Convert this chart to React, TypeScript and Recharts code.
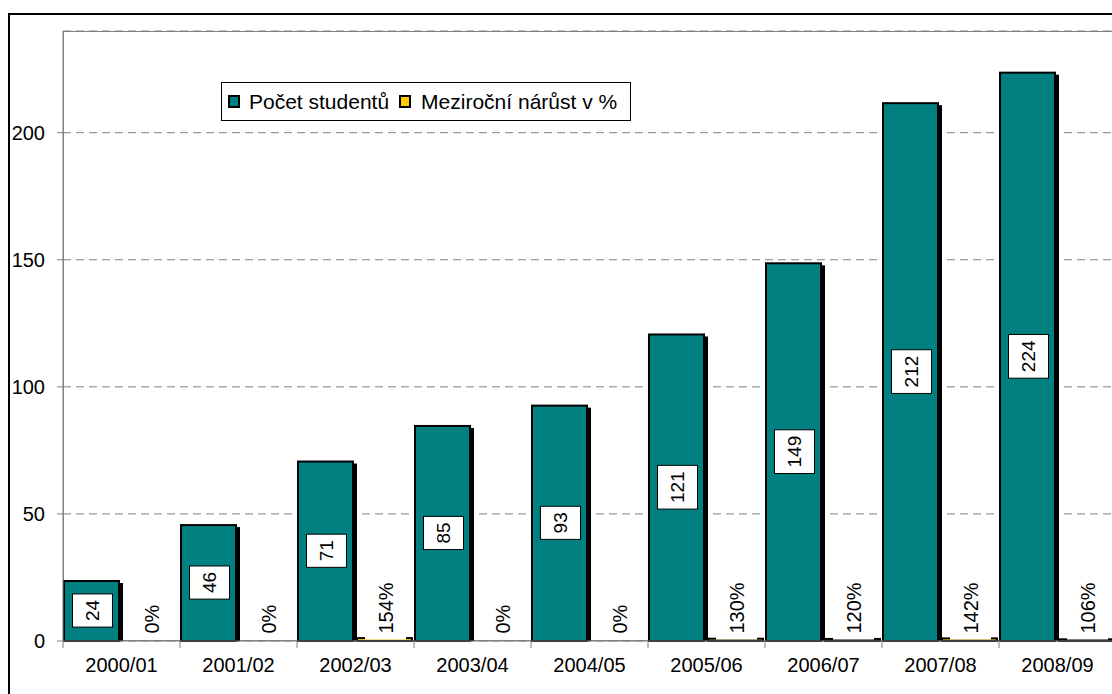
import { BarChart, Bar, XAxis, YAxis, CartesianGrid, LabelList } from "recharts";

const categories = ["2000/01", "2001/02", "2002/03", "2003/04", "2004/05", "2005/06", "2006/07", "2007/08", "2008/09"];
const students = [24, 46, 71, 85, 93, 121, 149, 212, 224];
// meziroční nárůst jako poměr (1.54 = 154 %)
const growth = [0, 0, 1.54, 0, 0, 1.3, 1.2, 1.42, 1.06];
const yTicks = [0, 50, 100, 150, 200];
const seriesNames = ["Počet studentů", "Meziroční nárůst v %"];

const data = categories.map((year, i) => ({ year, students: students[i], growth: growth[i] }));

const FONT = '"Liberation Sans", Arial, sans-serif';
const TEAL = "#008080";
const YELLOW = "#FFCC00";
const GRAY = "#808080";

// Excel-like bar: black outline + black drop shadow to the right
const BarBody = ({ x, y, width, height, fill }: any) => (
  <g>
    <rect x={x + 3} y={y + 3} width={width - 2} height={Math.max(0, height - 3)} fill="#000" />
    <rect x={x + 1} y={y + 1} width={width - 4} height={Math.max(0, height - 1)} fill={fill} stroke="#000" strokeWidth={2} />
  </g>
);

const StudentBar = (props: any) => {
  const { x, y, width, height } = props;
  if (!height || height <= 0) return <g />;
  return <BarBody x={x} y={y} width={width} height={height} fill={TEAL} />;
};

const GrowthBar = (props: any) => {
  const { x, y, width, height } = props;
  if (!height || height <= 0) return <g />;
  return <BarBody x={x} y={y} width={width} height={height} fill={YELLOW} />;
};

const box = (props: any) => {
  const vb = props.viewBox ?? {};
  return {
    x: Number(props.x ?? vb.x),
    y: Number(props.y ?? vb.y),
    width: Number(props.width ?? vb.width),
    height: Number(props.height ?? vb.height),
  };
};

// value in a white box, written upwards (text starts at the bottom)
const StudentLabel = (props: any) => {
  const { x, y, width, height } = box(props);
  const text = String(props.value);
  const cx = x + width / 2;
  const cy = y + height / 2;
  const len = text.length * 10.57;
  const h = len + 12;
  const start = cy + len / 2;
  return (
    <g>
      <rect x={cx - 20} y={cy - h / 2} width={40} height={h} fill="#fff" stroke="#000" strokeWidth={1} />
      <g transform={`translate(${cx},${start}) rotate(-90)`}>
        <text x={0} y={0} textAnchor="start" dominantBaseline="central" fontSize={19} fontFamily={FONT} fill="#000">
          {text}
        </text>
      </g>
    </g>
  );
};

const GrowthLabel = (props: any) => {
  const { x, y, width, height } = box(props);
  const value = Number(props.value) || 0;
  const cx = x + width / 2;
  const base = y + height;
  const start = base - 7.5;
  const text = `${Math.round(value * 100)}%`;
  const len = (text.length - 1) * 11.1 + 17.8;
  const top = start - len - 4;
  return (
    <g>
      {value > 0 && (
        <rect x={cx - 20.5} y={top} width={41} height={base - 1.5 - top} fill="#fff" />
      )}
      <g transform={`translate(${cx},${start}) rotate(-90)`}>
        <text x={0} y={0} textAnchor="start" dominantBaseline="central" fontSize={20} fontFamily={FONT} fill="#000">
          {text}
        </text>
      </g>
    </g>
  );
};

const XTick = (props: any) => {
  const { x, y, payload } = props;
  const half = payload?.offset || 58.5;
  return (
    <g>
      <line x1={x - half} x2={x - half} y1={y} y2={y + 7} stroke={GRAY} />
      <text x={x} y={y + 31} textAnchor="middle" fontSize={20} fontFamily={FONT} fill="#000">
        {payload.value}
      </text>
    </g>
  );
};

const LegendIcon = ({ color }: { color: string }) => (
  <span style={{ display: "inline-block", width: 8, height: 9, background: color, border: "2px solid #000" }} />
);

export default function App() {
  return (
    <div
      style={{
        position: "absolute", left: 8, top: 13, width: 1104, height: 681,
        borderLeft: "2px solid #000", borderTop: "2px solid #000",
        boxSizing: "border-box", overflow: "hidden", background: "#fff",
      }}
    >
      <div style={{ position: "relative", width: 1120, height: 690 }}>
        <div
          style={{
            position: "absolute", left: 53, top: 16, width: 1053, height: 610,
            border: `1px solid ${GRAY}`, boxSizing: "border-box",
          }}
        />
        <BarChart
          width={1120}
          height={690}
          data={data}
          margin={{ top: 16, right: 14, left: 0, bottom: 10 }}
          barCategoryGap={0}
          barGap={0}
        >
          <CartesianGrid vertical={false} stroke={GRAY} strokeDasharray="8 5" />
          <XAxis
            dataKey="year"
            height={54}
            interval={0}
            tickSize={0}
            tickMargin={0}
            tick={<XTick />}
            axisLine={{ stroke: GRAY }}
            tickLine={false}
          />
          <YAxis
            width={53}
            domain={[0, 240]}
            ticks={yTicks}
            interval={0}
            tickSize={6}
            tickMargin={12}
            tick={{ fontSize: 20, fill: "#000", fontFamily: FONT }}
            axisLine={{ stroke: GRAY }}
            tickLine={{ stroke: GRAY }}
          />
          <Bar dataKey="students" name={seriesNames[0]} fill={TEAL} shape={StudentBar} isAnimationActive={false}>
            <LabelList dataKey="students" content={<StudentLabel />} />
          </Bar>
          <Bar dataKey="growth" name={seriesNames[1]} fill={YELLOW} shape={GrowthBar} isAnimationActive={false}>
            <LabelList dataKey="growth" content={<GrowthLabel />} />
          </Bar>
        </BarChart>
        <div
          style={{
            position: "absolute", left: 211, top: 67, width: 410, height: 39,
            border: "1px solid #000", boxSizing: "border-box", background: "#fff",
            display: "flex", alignItems: "center", paddingLeft: 6,
            fontFamily: FONT, fontSize: 21, color: "#000", whiteSpace: "nowrap",
          }}
        >
          <LegendIcon color={TEAL} />
          <span style={{ marginLeft: 9 }}>{seriesNames[0]}</span>
          <span style={{ marginLeft: 10, display: "inline-flex" }}><LegendIcon color={YELLOW} /></span>
          <span style={{ marginLeft: 10 }}>{seriesNames[1]}</span>
        </div>
      </div>
    </div>
  );
}
